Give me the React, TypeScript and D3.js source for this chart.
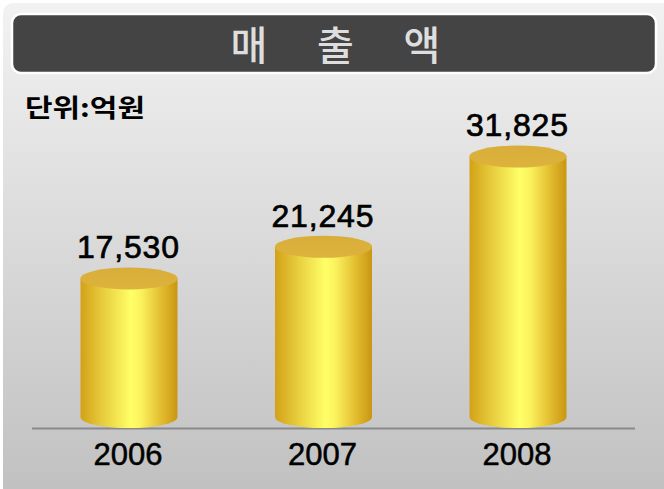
import React from "react";
import * as d3 from "d3";

const years = ["2006", "2007", "2008"];
const values = [17530, 21245, 31825];
const titleChars = ["매", "출", "액"];
const unitLabel = "단위:억원";

const W = 664;
const H = 489;

export default function App() {
  const x = d3.scalePoint<string>().domain(years).range([129, 518]);
  const y = d3.scaleLinear().domain([0, 35000]).range([428, 129.4]);
  const fmt = d3.format(",");
  const rx = 48.5;
  const ry = 11;
  const base = y(0);
  const titleX = d3.scalePoint<string>().domain(titleChars).range([249, 422]);

  return (
    <svg width={W} height={H} style={{ position: "absolute", left: 0, top: 0, display: "block" }}>
      <defs>
        <linearGradient id="bg" x1="0" y1="0" x2="0" y2="1">
          <stop offset="0%" stopColor="#f2f2f2" />
          <stop offset="100%" stopColor="#c0c0c0" />
        </linearGradient>
        <linearGradient id="body" x1="0" y1="0" x2="1" y2="0">
          <stop offset="0%" stopColor="#d3a118" />
          <stop offset="25%" stopColor="#e9d040" />
          <stop offset="52%" stopColor="#ffff66" />
          <stop offset="62%" stopColor="#fbf35e" />
          <stop offset="85%" stopColor="#e0b82c" />
          <stop offset="100%" stopColor="#c99612" />
        </linearGradient>
        <linearGradient id="topg" x1="0" y1="0" x2="0" y2="1">
          <stop offset="0%" stopColor="#d9ad3a" />
          <stop offset="100%" stopColor="#dcb33c" />
        </linearGradient>
      </defs>
      <rect x={3} y={3} width={W + 10} height={H - 3 + 10} rx={10} fill="url(#bg)" />
      <rect x={12} y={14} width={644} height={59} rx={9} fill="#444444" stroke="#ffffff" strokeWidth={2.5} />
      {titleChars.map((c) => (
        <text
          key={c}
          x={titleX(c)}
          y={60}
          textAnchor="middle"
          fontFamily="'Noto Sans CJK KR', sans-serif"
          fontWeight={500}
          fontSize={40}
          fill="#dedede"
        >
          {c}
        </text>
      ))}
      <text
        x={25}
        y={117}
        fontFamily="'Noto Sans CJK KR', sans-serif"
        fontWeight={700}
        fontSize={25}
        textLength={120}
        lengthAdjust="spacingAndGlyphs"
        fill="#000"
      >
        {unitLabel}
      </text>
      <line x1={32} x2={635} y1={base + 0.5} y2={base + 0.5} stroke="#8a8a8a" strokeWidth={2} />
      {years.map((yr, i) => {
        const cx = x(yr) as number;
        const top = y(values[i]);
        const bot = base - ry;
        const d = `M${cx - rx},${top} L${cx - rx},${bot} A${rx},${ry} 0 0 0 ${cx + rx},${bot} L${cx + rx},${top} Z`;
        return (
          <g key={yr}>
            <path d={d} fill="url(#body)" />
            <ellipse cx={cx} cy={top} rx={rx} ry={ry} fill="url(#topg)" />
            <text
              x={cx - 1}
              y={top - ry - 9}
              textAnchor="middle"
              fontFamily="'Liberation Sans', Arial, sans-serif"
              fontSize={32}
              fill="#000"
              stroke="#000"
              strokeWidth={0.7}
              textLength={102}
              lengthAdjust="spacing"
            >
              {fmt(values[i])}
            </text>
            <text
              x={cx - 1}
              y={465}
              textAnchor="middle"
              fontFamily="'Liberation Sans', Arial, sans-serif"
              fontSize={31}
              fill="#000"
              stroke="#000"
              strokeWidth={0.5}
            >
              {yr}
            </text>
          </g>
        );
      })}
    </svg>
  );
}
